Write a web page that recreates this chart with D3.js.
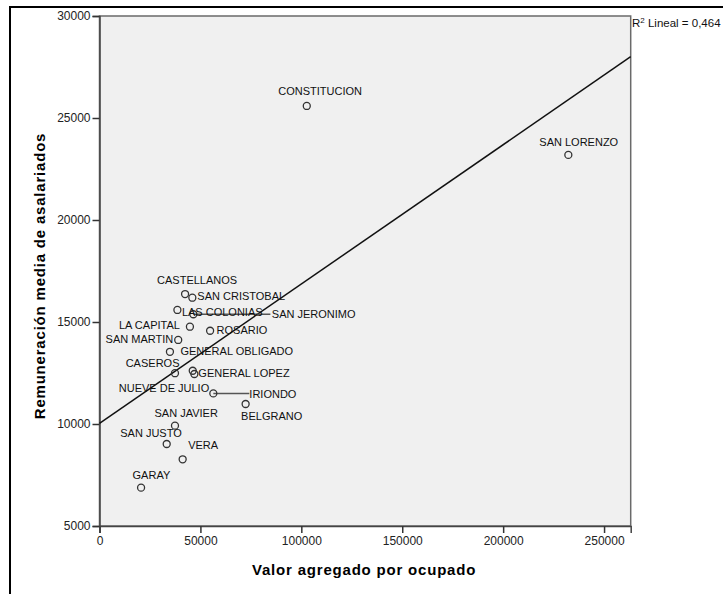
<!DOCTYPE html>
<html lang="es">
<head>
<meta charset="UTF-8">
<title>Remuneración vs valor agregado</title>
<script src="https://d3js.org/d3.v7.min.js"></script>
<style>
    body { margin: 0; background: #fff; }
    svg { display: block; font-family: "Liberation Sans", Arial, sans-serif; }
    .tick text { font-size: 12px; fill: #222; }
    .pt-label { font-size: 11px; fill: #111; }
    .axis-title { font-size: 15px; font-weight: bold; fill: #000; letter-spacing: 0.8px; }
</style>
</head>
<body>
<svg width="723" height="594"></svg>
<script>
// data
var departments = ["CASTELLANOS", "SAN CRISTOBAL", "LAS COLONIAS", "SAN JERONIMO", "LA CAPITAL",
    "ROSARIO", "SAN MARTIN", "GENERAL OBLIGADO", "CASEROS", "GENERAL LOPEZ", "NUEVE DE JULIO",
    "IRIONDO", "BELGRANO", "SAN JAVIER", "SAN JUSTO", "VERA", "GARAY", "CONSTITUCION", "SAN LORENZO"];
var valorAgregado = [42400, 46000, 38600, 46500, 44800, 54800, 39000, 34900, 37400, 47000, 46200,
    56400, 72400, 37400, 33300, 41200, 20600, 102700, 232300];
var remuneracion = [16370, 16190, 15590, 15380, 14770, 14570, 14120, 13540, 12490, 12450, 12610,
    11500, 10980, 9920, 9020, 8270, 6880, 25590, 23190];
var xTicks = [0, 50000, 100000, 150000, 200000, 250000];
var yTicks = [5000, 10000, 15000, 20000, 25000, 30000];
var fitIntercept = 10034, fitSlope = 0.06828, r2 = "0,464";

// label placement: anchor, dx, dy (baseline), optional leader line end
var labelPos = {
    "CASTELLANOS": ["start", -28, -10],
    "SAN CRISTOBAL": ["start", 5, 2],
    "LAS COLONIAS": ["start", 4.5, 6],
    "SAN JERONIMO": ["start", 78.5, 4, 77],
    "LA CAPITAL": ["end", -10, 2],
    "ROSARIO": ["start", 6.5, 3.5],
    "SAN MARTIN": ["end", -5, 3.5],
    "GENERAL OBLIGADO": ["start", 10.5, 3.5],
    "CASEROS": ["end", 4.5, -6],
    "GENERAL LOPEZ": ["start", 4, 3],
    "NUEVE DE JULIO": ["end", 16.5, 21],
    "IRIONDO": ["start", 36, 5, 36],
    "BELGRANO": ["start", -4.5, 16],
    "SAN JAVIER": ["start", -20.5, -9],
    "SAN JUSTO": ["start", -46.5, -6.5],
    "VERA": ["start", 5.5, -10],
    "GARAY": ["start", -8.5, -8.5],
    "CONSTITUCION": ["start", -28.5, -11],
    "SAN LORENZO": ["start", -29, -8.5]
};

var svg = d3.select("svg");
var plot = {left: 99.5, top: 16, right: 630.7, bottom: 526};

// outer frame (runs past the window on the right and bottom)
svg.append("rect")
    .attr("x", 10).attr("y", 7)
    .attr("width", 800).attr("height", 700)
    .attr("fill", "none").attr("stroke", "#000").attr("stroke-width", 2);

var x = d3.scaleLinear().domain([0, 263200]).range([plot.left, plot.right]);
var y = d3.scaleLinear().domain([5000, 30000]).range([plot.bottom, plot.top]);

svg.append("rect")
    .attr("x", plot.left).attr("y", plot.top)
    .attr("width", plot.right - plot.left).attr("height", plot.bottom - plot.top)
    .attr("fill", "#f0f0f0").attr("stroke", "#6a6a6a").attr("stroke-width", 1.5);

var xAxis = svg.append("g")
    .attr("transform", "translate(0," + plot.bottom + ")")
    .call(d3.axisBottom(x).tickValues(xTicks).tickFormat(d3.format("d")).tickSize(7).tickPadding(3));
var yAxis = svg.append("g")
    .attr("transform", "translate(" + plot.left + ",0)")
    .call(d3.axisLeft(y).tickValues(yTicks).tickFormat(d3.format("d")).tickSize(7).tickPadding(2));
[xAxis, yAxis].forEach(function(a) {
    a.select(".domain").attr("stroke", "#444").attr("stroke-width", 1.5);
    a.selectAll(".tick line").attr("stroke", "#333").attr("stroke-width", 1.5);
    a.attr("font-family", null).attr("font-size", null);
});

// fit line
var fitX = x.domain();
svg.append("line")
    .attr("x1", x(fitX[0])).attr("y1", y(fitIntercept + fitSlope * fitX[0]))
    .attr("x2", x(fitX[1])).attr("y2", y(fitIntercept + fitSlope * fitX[1]))
    .attr("stroke", "#111").attr("stroke-width", 1.5);

var pts = departments.map(function(d, i) {
    return {name: d, vx: valorAgregado[i], vy: remuneracion[i]};
});

// leader lines
pts.forEach(function(p) {
    var lp = labelPos[p.name];
    if (lp[3] === undefined) return;
    svg.append("line")
        .attr("x1", x(p.vx)).attr("y1", y(p.vy))
        .attr("x2", x(p.vx) + lp[3]).attr("y2", y(p.vy))
        .attr("stroke", "#555").attr("stroke-width", 1.5);
});

svg.selectAll("circle.pt").data(pts).enter().append("circle")
    .attr("class", "pt")
    .attr("cx", function(d) { return x(d.vx); })
    .attr("cy", function(d) { return y(d.vy); })
    .attr("r", 3.5)
    .attr("fill", "none").attr("stroke", "#333").attr("stroke-width", 1.3);

svg.selectAll("text.pt-label").data(pts).enter().append("text")
    .attr("class", "pt-label")
    .attr("text-anchor", function(d) { return labelPos[d.name][0]; })
    .attr("x", function(d) { return x(d.vx) + labelPos[d.name][1]; })
    .attr("y", function(d) { return y(d.vy) + labelPos[d.name][2]; })
    .text(function(d) { return d.name; });

// R2 annotation
var r2t = svg.append("text").attr("x", 632).attr("y", 27).attr("font-size", 11.5).attr("fill", "#111");
r2t.append("tspan").text("R");
r2t.append("tspan").attr("font-size", 8).attr("dy", -4).text("2");
r2t.append("tspan").attr("dy", 4).text(" Lineal = " + r2);

svg.append("text").attr("class", "axis-title")
    .attr("x", (plot.left + plot.right) / 2 - 1).attr("y", 575)
    .attr("text-anchor", "middle")
    .text("Valor agregado por ocupado");

svg.append("text").attr("class", "axis-title")
    .attr("transform", "translate(45," + 276 + ") rotate(-90)")
    .attr("text-anchor", "middle")
    .text("Remuneración media de asalariados");
</script>
</body>
</html>
